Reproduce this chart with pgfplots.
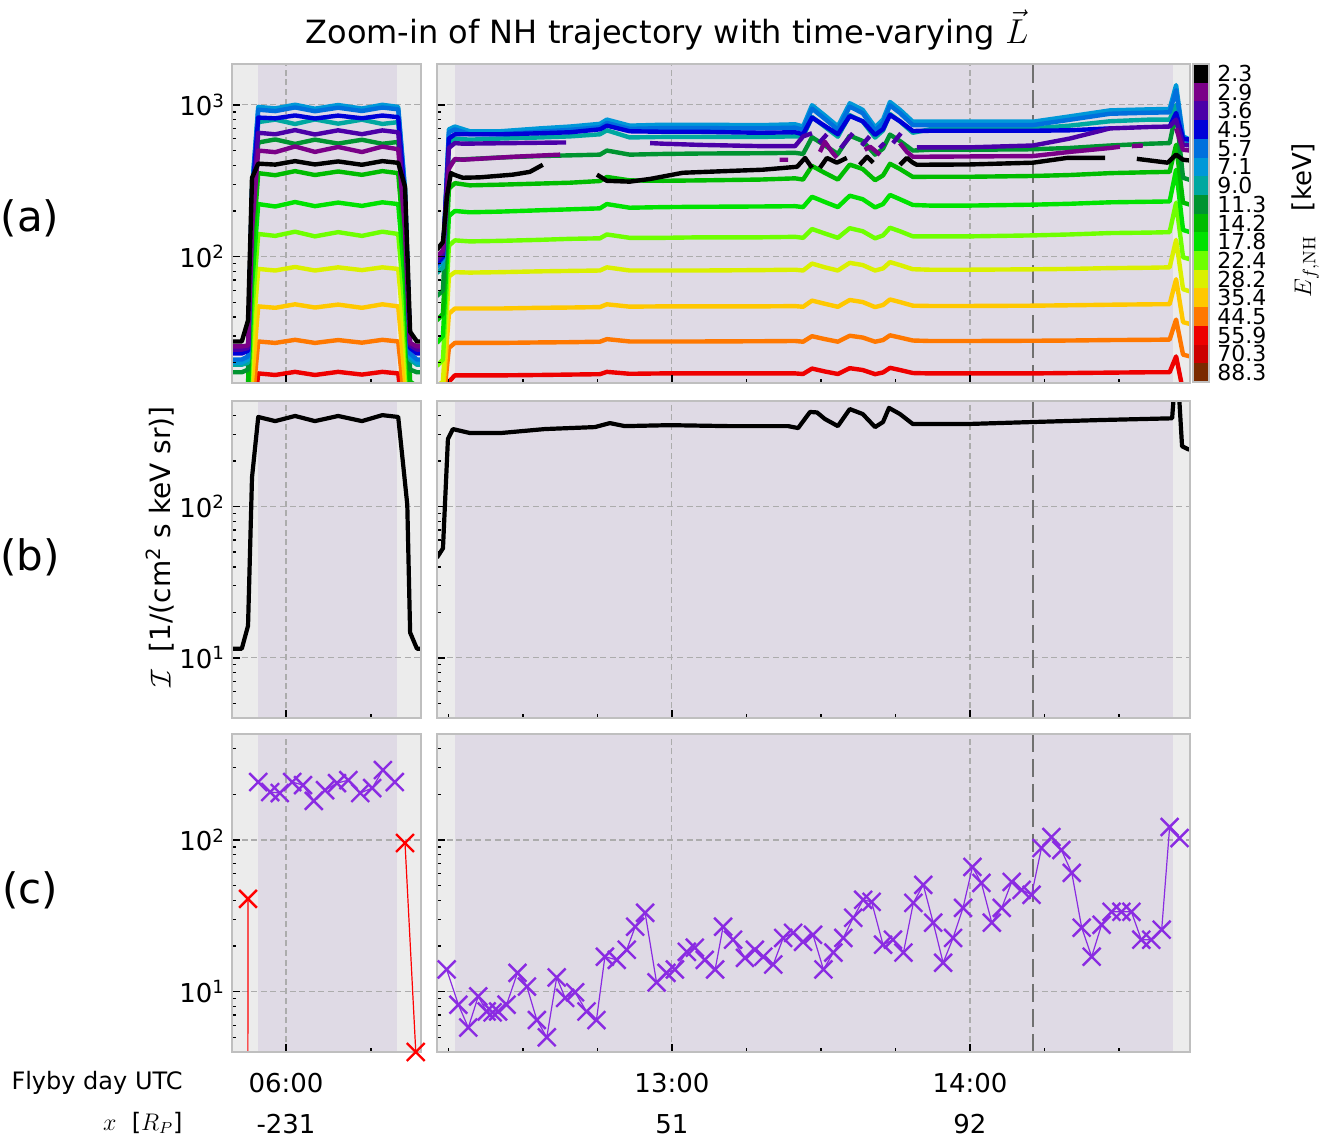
\documentclass[border=0pt]{standalone}
\usepackage[no-math]{fontspec}
\setmainfont{DejaVu Sans}
\usepackage{pgfplots}
\usepackage{pgfplotstable}
\pgfplotsset{compat=1.18}

% energy channel colours (2.3 keV ... 88.3 keV)
\definecolor{e01}{RGB}{0,0,0}
\definecolor{e02}{RGB}{122,0,136}
\definecolor{e03}{RGB}{75,0,168}
\definecolor{e04}{RGB}{0,0,216}
\definecolor{e05}{RGB}{0,112,221}
\definecolor{e06}{RGB}{0,152,216}
\definecolor{e07}{RGB}{0,168,160}
\definecolor{e08}{RGB}{0,148,48}
\definecolor{e09}{RGB}{0,188,0}
\definecolor{e10}{RGB}{0,226,0}
\definecolor{e11}{RGB}{110,255,0}
\definecolor{e12}{RGB}{218,240,0}
\definecolor{e13}{RGB}{255,200,0}
\definecolor{e14}{RGB}{255,120,0}
\definecolor{e15}{RGB}{238,0,0}
\definecolor{e16}{RGB}{204,0,0}
\definecolor{e17}{RGB}{122,42,0}
\definecolor{stripgray}{RGB}{236,236,236}
\definecolor{shadepurple}{RGB}{223,218,229}
\definecolor{gridgray}{RGB}{172,172,172}
\definecolor{markline}{RGB}{112,112,112}
\definecolor{cpurple}{RGB}{138,43,226}

% ---------- panel (a), morning pass: time [min of day] and intensity per channel
\pgfplotstableread{
x c1 c2 c3 c4 c5 c6 c7 c8 c9 c10 c11 c12 c13 c14 c15
350.47 27.6 25.6 24.4 23 21 20 19.4 17.3 14 12 10 8.5 7.5 6.5 5.5
352.2 27.6 25.6 24.4 23 21 20 19.4 17.3 14 12 10 8.5 7.5 6.5 5.5
353.3 38 26 25 24 22 21 20 18 14.5 12.5 10.5 9 8 7 6
354.0 330 150 190 240 270 280 220 160 100 65 42 25 15 10 7
355.1 410 500 655 825 930 970 770 565 355 222 141 83 47 27.6 17
358.1 404 488 640 815 910 948 800 592 344 214 137 81 46 27 16.6
361.6 426 532 682 852 962 1002 748 553 366 229 146 85.5 48.5 28.3 17.4
365.1 405 490 638 813 908 944 802 590 345 215 136 81 46.2 27 16.6
369.2 424 528 680 850 958 998 752 556 364 227 145 85 48.3 28.2 17.4
373.4 403 489 641 816 911 946 799 589 346 216 137 81.5 46 27.1 16.7
377.0 426 531 679 851 961 1001 749 554 366 228 146 85 48.5 28.3 17.4
379.8 415 510 660 830 935 970 770 570 355 222 141 83 47 27.6 17
381.0 289 150 190 240 270 280 220 160 100 65 42 25 15 10 7
381.9 32 27 26 25 23 22 21 18 15 12.5 10.5 9 8 7 6
383.1 27.6 25.6 24.4 23 21 20 19.4 17.3 14 12 10 8.5 7.5 6.5 5.5
383.82 27.6 25.6 24.4 23 21 20 19.4 17.3 14 12 10 8.5 7.5 6.5 5.5
}\leftA

% ---------- panel (a), closest approach: channels 4.5 ... 55.9 keV
\pgfplotstableread{
x c4 c5 c6 c7 c8 c9 c10 c11 c12 c13 c14 c15
732.7 90 88 85 78 55 38 27 19 14 12 10 8
733.9 100 98 95 85 60 42 30 21 15 12.5 10.5 8.5
735.1 600 660 690 560 400 280 185 118 74 42 25 15
736.3 640 690 720 600 435 305 200 128 79 45.5 27 16.5
739.3 640 640 670 590 440 295 196 126 78.5 45.5 27 16.5
745.4 640 640 670 600 450 298 198 127 79 45.5 27 16.5
753.4 650 665 700 610 460 303 202 129 80 46 27.2 16.6
759.5 660 685 720 620 465 307 205 131 80.5 46.2 27.3 16.7
765.5 690 712 750 640 470 315 208 132 81 46.5 27.5 16.8
766.9 730 760 800 680 500 335 222 140 85 48.5 28.6 17.4
771.5 670 695 730 610 470 318 210 133 81 46.8 27.6 16.9
778.2 665 703 740 615 475 316 212 133 81 47 27.6 17
785.6 665 703 740 615 478 318 213 134 81 47 27.6 17
797.7 655 700 735 615 480 322 214 134 81.5 47 27.7 17
804.8 660 708 745 620 483 328 215 135 82 47.2 27.8 17
806.4 640 684 720 617 475 322 212 133 81 46.7 27.5 16.85
808.2 825 945 995 832 612 396 248 152 90 51.3 29.9 18.3
810.8 726 808 850 717 540 356 229 142 85 48.9 28.6 17.5
813.4 640 686 722 617 475 322 212 133 81 46.7 27.5 16.85
815.8 845 974 1025 855 627 404 252 154 91 51.8 30.1 18.4
818.4 780 882 928 778 578 378 239 147 88 50.2 29.3 17.9
820.9 634 677 713 609 470 319 211 132 81 46.5 27.5 16.8
822.5 693 760 800 678 515 343 222 138 83.6 48 28.2 17.25
823.9 858 993 1045 870 637 409 255 155 92 52.2 30.3 18.5
825.9 780 884 930 778 578 378 239 147 88 50.2 29.3 17.9
828.5 673 736 775 655 500 335 219 136 82.6 47.5 28 17.1
831.9 675 736 775 690 506 336 217 136 82 47.3 27.8 17
840.0 675 736 775 690 506 336 217 136 82 47.3 27.8 17
852.7 675 736 775 700 510 340 220 138 82.5 47.5 27.9 17
860.1 680 798 840 730 520 345 223 140 83 47.8 28 17.1
868.2 700 874 920 780 540 355 228 143 84 48.2 28.2 17.2
876.2 nan 888 935 800 555 360 230 144 84.5 48.5 28.3 17.3
880.2 720 893 940 800 560 362 231 145 85 48.6 28.4 17.3
881.5 885 1250 1350 1000 900 546 374 227 129 71 38.5 22
882.9 600 600 620 590 331 227 150 99 61 37 22.6 13
884.3 590 575 590 570 320 220 145 96 59 36 22 12
}\rightA

% 2.3 keV channel (gaps are missing samples)
\pgfplotstableread{
x y
732.7 111
733.9 125
734.7 250
735.5 355
736.3 345
737.9 331
741.3 333
748.0 347
751.4 362
754.0 403
759.0 nan
764.9 347
766.9 316
771.5 312
775.6 325
782.2 357
789.7 365
798.3 374
805.2 391
806.8 447
808.2 385
809.0 nan
809.8 385
811.2 447
813.2 416
815.2 447
816.5 nan
817.8 403
819.3 455
820.5 416
823.0 nan
825.9 403
827.3 447
828.5 416
829.3 403
840.0 405
852.7 416
859.5 447
867.2 447
870.0 nan
873.6 441
879.8 416
881.5 470
882.9 435
884.3 430
}\rightOne

% 2.9 keV channel
\pgfplotstableread{
x y
732.7 100
733.9 110
735.1 380
736.3 440
737.9 435
748.0 455
757.5 470
780.0 nan
801.7 435
803.4 435
805.0 nan
809.8 490
810.8 571
812.2 490
813.2 448
816.0 nan
818.8 506
819.9 530
821.9 469
824.0 nan
825.9 560
827.3 490
828.5 455
829.3 455
852.7 460
860.1 490
868.2 520
870.2 530
871.5 nan
872.6 535
874.8 540
878.0 nan
881.5 700
882.9 506
884.3 500
}\rightTwo

% 3.6 keV channel
\pgfplotstableread{
x y
732.7 95
733.9 105
735.1 520
736.3 560
737.9 555
748.0 560
757.5 565
758.7 565
765.0 nan
775.6 560
778.2 555
785.6 545
797.7 535
804.8 535
806.4 620
808.2 650
809.0 nan
809.6 560
811.2 640
812.5 nan
814.0 520
816.4 650
817.5 nan
818.2 540
819.8 620
821.0 nan
821.8 520
822.8 560
823.8 nan
824.5 560
826.1 650
828.0 nan
829.3 525
840.0 525
852.7 540
860.1 600
868.2 700
876.2 715
880.2 720
881.5 800
882.9 546
884.3 540
}\rightThree

\tikzset{
  nhgrid/.style={draw=gridgray, line width=0.55pt, dash pattern=on 3pt off 1.8pt},
  nhchan/.style={draw=#1, line width=2.2pt, line join=round},
  nhtot/.style={draw=black, line width=2.1pt, line join=round},
  nhref/.style={draw=markline, line width=1pt, dash pattern=on 9pt off 3.5pt},
  nhx/.style={draw=#1, line width=0.6pt, mark=x, mark size=6.3pt,
    mark options={line width=1.2pt, draw=#1}},
}

\begin{document}
\begin{tikzpicture}
\path[use as bounding box] (0,0) rectangle (667.5pt,570pt);

% ================= (a) =================
\begin{semilogyaxis}[at={(116pt,378.5pt)}, anchor=south west, scale only axis,
  width=94.5pt, height=159.5pt, xmin=350.47, xmax=383.82, ymin=14.7, ymax=1860,
  axis on top, axis line style={draw=gray!50, line width=1pt},
  tick align=inside, xtick pos=left, ytick pos=left,
  major tick length=4pt, minor tick length=2pt,
  every tick/.style={black, line width=0.7pt},
  xtick={360}, minor xtick={375}, xticklabels={},
  ytick={100,1000}, minor ytick={20,30,40,50,60,70,80,90,200,300,400,500,600,700,800,900},
  yticklabels={10\textsuperscript{2},10\textsuperscript{3}},
  yticklabel style={font=\fontsize{13}{15}\selectfont},
  unbounded coords=jump]
\addplot[fill=stripgray, draw=none] coordinates {(350.47,14.7) (350.47,1860) (383.82,1860) (383.82,14.7)} -- cycle;
\addplot[fill=shadepurple, draw=none] coordinates {(355.06,14.7) (355.06,1860) (379.6,1860) (379.6,14.7)} -- cycle;
\addplot[nhgrid] coordinates {(350.47,100) (383.82,100)};
\addplot[nhgrid] coordinates {(350.47,1000) (383.82,1000)};
\addplot[nhgrid] coordinates {(360,14.7) (360,1860)};
\addplot[nhchan=e15] table[y=c15] {\leftA};
\addplot[nhchan=e14] table[y=c14] {\leftA};
\addplot[nhchan=e13] table[y=c13] {\leftA};
\addplot[nhchan=e12] table[y=c12] {\leftA};
\addplot[nhchan=e11] table[y=c11] {\leftA};
\addplot[nhchan=e10] table[y=c10] {\leftA};
\addplot[nhchan=e09] table[y=c9] {\leftA};
\addplot[nhchan=e08] table[y=c8] {\leftA};
\addplot[nhchan=e07] table[y=c7] {\leftA};
\addplot[nhchan=e06] table[y=c6] {\leftA};
\addplot[nhchan=e05] table[y=c5] {\leftA};
\addplot[nhchan=e04] table[y=c4] {\leftA};
\addplot[nhchan=e03] table[y=c3] {\leftA};
\addplot[nhchan=e02] table[y=c2] {\leftA};
\addplot[nhchan=e01] table[y=c1] {\leftA};
\end{semilogyaxis}

\begin{semilogyaxis}[at={(218.5pt,378.5pt)}, anchor=south west, scale only axis,
  width=376.5pt, height=159.5pt, xmin=732.7, xmax=884.3, ymin=14.7, ymax=1860,
  axis on top, axis line style={draw=gray!50, line width=1pt},
  tick align=inside, xtick pos=left, ytick pos=left,
  major tick length=4pt, minor tick length=2pt,
  every tick/.style={black, line width=0.7pt},
  xtick={780,840}, minor xtick={735,750,765,795,810,825,855,870}, xticklabels={},
  ytick={100,1000}, minor ytick={20,30,40,50,60,70,80,90,200,300,400,500,600,700,800,900},
  yticklabels={},
  unbounded coords=jump]
\addplot[fill=stripgray, draw=none] coordinates {(732.7,14.7) (732.7,1860) (884.3,1860) (884.3,14.7)} -- cycle;
\addplot[fill=shadepurple, draw=none] coordinates {(736.3,14.7) (736.3,1860) (880.85,1860) (880.85,14.7)} -- cycle;
\addplot[nhgrid] coordinates {(732.7,100) (884.3,100)};
\addplot[nhgrid] coordinates {(732.7,1000) (884.3,1000)};
\addplot[nhgrid] coordinates {(780,14.7) (780,1860)};
\addplot[nhgrid] coordinates {(840,14.7) (840,1860)};
\addplot[nhref] coordinates {(852.7,14.7) (852.7,1860)};
\addplot[nhchan=e15] table[y=c15] {\rightA};
\addplot[nhchan=e14] table[y=c14] {\rightA};
\addplot[nhchan=e13] table[y=c13] {\rightA};
\addplot[nhchan=e12] table[y=c12] {\rightA};
\addplot[nhchan=e11] table[y=c11] {\rightA};
\addplot[nhchan=e10] table[y=c10] {\rightA};
\addplot[nhchan=e09] table[y=c9] {\rightA};
\addplot[nhchan=e08] table[y=c8] {\rightA};
\addplot[nhchan=e07] table[y=c7] {\rightA};
\addplot[nhchan=e06] table[y=c6] {\rightA};
\addplot[nhchan=e05] table[y=c5] {\rightA};
\addplot[nhchan=e04] table[y=c4] {\rightA};
\addplot[nhchan=e03] table {\rightThree};
\addplot[nhchan=e02] table {\rightTwo};
\addplot[nhchan=e01] table {\rightOne};
\end{semilogyaxis}

% colour bar of the energy channels
\begin{axis}[at={(596.5pt,379pt)}, anchor=south west, scale only axis,
  width=8pt, height=159pt, xmin=-0.5, xmax=0.5, ymin=0, ymax=17,
  ybar stacked, bar width=8pt, axis on top,
  xtick=\empty, ytick={0.5,1.5,...,16.5},
  yticklabels={88.3,70.3,55.9,44.5,35.4,28.2,22.4,17.8,14.2,11.3,9.0,7.1,5.7,4.5,3.6,2.9,2.3},
  yticklabel pos=right, major tick length=0pt,
  axis line style={draw=gray!50, line width=0.6pt},
  yticklabel style={font=\fontsize{11}{11}\selectfont, inner sep=0pt, xshift=4pt}]
\addplot[fill=e17, draw=none] coordinates {(0,1)};
\addplot[fill=e16, draw=none] coordinates {(0,1)};
\addplot[fill=e15, draw=none] coordinates {(0,1)};
\addplot[fill=e14, draw=none] coordinates {(0,1)};
\addplot[fill=e13, draw=none] coordinates {(0,1)};
\addplot[fill=e12, draw=none] coordinates {(0,1)};
\addplot[fill=e11, draw=none] coordinates {(0,1)};
\addplot[fill=e10, draw=none] coordinates {(0,1)};
\addplot[fill=e09, draw=none] coordinates {(0,1)};
\addplot[fill=e08, draw=none] coordinates {(0,1)};
\addplot[fill=e07, draw=none] coordinates {(0,1)};
\addplot[fill=e06, draw=none] coordinates {(0,1)};
\addplot[fill=e05, draw=none] coordinates {(0,1)};
\addplot[fill=e04, draw=none] coordinates {(0,1)};
\addplot[fill=e03, draw=none] coordinates {(0,1)};
\addplot[fill=e02, draw=none] coordinates {(0,1)};
\addplot[fill=e01, draw=none] coordinates {(0,1)};
\end{axis}

% ================= (b) =================
\begin{semilogyaxis}[at={(116pt,211pt)}, anchor=south west, scale only axis,
  width=94.5pt, height=158.5pt, xmin=350.47, xmax=383.82, ymin=4, ymax=500,
  axis on top, axis line style={draw=gray!50, line width=1pt},
  tick align=inside, xtick pos=left, ytick pos=left,
  major tick length=4pt, minor tick length=2pt,
  every tick/.style={black, line width=0.7pt},
  xtick={360}, minor xtick={375}, xticklabels={},
  ytick={10,100}, minor ytick={4,5,6,7,8,9,20,30,40,50,60,70,80,90,200,300,400},
  yticklabels={10\textsuperscript{1},10\textsuperscript{2}},
  yticklabel style={font=\fontsize{13}{15}\selectfont}]
\addplot[fill=stripgray, draw=none] coordinates {(350.47,4) (350.47,500) (383.82,500) (383.82,4)} -- cycle;
\addplot[fill=shadepurple, draw=none] coordinates {(355.06,4) (355.06,500) (379.6,500) (379.6,4)} -- cycle;
\addplot[nhgrid] coordinates {(350.47,10) (383.82,10)};
\addplot[nhgrid] coordinates {(350.47,100) (383.82,100)};
\addplot[nhgrid] coordinates {(360,4) (360,500)};
\addplot[nhtot] table {
x y
350.47 11.5
352.2 11.5
353.3 16.3
354.0 156
355.1 392
358.1 368
361.6 398
365.1 368
369.2 398
373.4 368
377.0 403
379.8 392
381.4 103
381.9 14.7
383.1 11.5
383.82 11.5
};
\end{semilogyaxis}

\begin{semilogyaxis}[at={(218.5pt,211pt)}, anchor=south west, scale only axis,
  width=376.5pt, height=158.5pt, xmin=732.7, xmax=884.3, ymin=4, ymax=500,
  axis on top, axis line style={draw=gray!50, line width=1pt},
  tick align=inside, xtick pos=left, ytick pos=left,
  major tick length=4pt, minor tick length=2pt,
  every tick/.style={black, line width=0.7pt},
  xtick={780,840}, minor xtick={735,750,765,795,810,825,855,870}, xticklabels={},
  ytick={10,100}, minor ytick={4,5,6,7,8,9,20,30,40,50,60,70,80,90,200,300,400},
  yticklabels={}]
\addplot[fill=stripgray, draw=none] coordinates {(732.7,4) (732.7,500) (884.3,500) (884.3,4)} -- cycle;
\addplot[fill=shadepurple, draw=none] coordinates {(736.3,4) (736.3,500) (880.85,500) (880.85,4)} -- cycle;
\addplot[nhgrid] coordinates {(732.7,10) (884.3,10)};
\addplot[nhgrid] coordinates {(732.7,100) (884.3,100)};
\addplot[nhgrid] coordinates {(780,4) (780,500)};
\addplot[nhgrid] coordinates {(840,4) (840,500)};
\addplot[nhref] coordinates {(852.7,4) (852.7,500)};
\addplot[nhtot] table {
x y
732.7 46
733.9 53
734.9 280
735.9 326
739.3 307
745.6 307
754.4 326
764.5 336
767.5 357
770.5 341
777.8 345
781.8 345
791.3 341
803.4 341
805.4 331
807.8 423
809.2 420
810.8 380
813.4 341
815.8 442
818.4 410
820.9 336
822.5 363
823.7 450
825.9 410
828.5 352
839.4 352
852.7 363
866.2 374
880.7 384
881.3 700
881.9 700
882.7 251
883.9 240
884.3 238
};
\end{semilogyaxis}

% ================= (c) =================
\begin{semilogyaxis}[at={(116pt,44pt)}, anchor=south west, scale only axis,
  width=94.5pt, height=159pt, xmin=350.47, xmax=383.82, ymin=4, ymax=500,
  axis on top, axis line style={draw=gray!50, line width=1pt},
  tick align=inside, xtick pos=left, ytick pos=left,
  major tick length=4pt, minor tick length=2pt,
  every tick/.style={black, line width=0.7pt},
  xtick={360}, minor xtick={375}, xticklabels={{06:00\\-231}},
  xticklabel style={align=center, font=\fontsize{13}{20.5}\selectfont, yshift=-7pt},
  ytick={10,100}, minor ytick={4,5,6,7,8,9,20,30,40,50,60,70,80,90,200,300,400},
  yticklabels={10\textsuperscript{1},10\textsuperscript{2}},
  yticklabel style={font=\fontsize{13}{15}\selectfont}]
\addplot[fill=stripgray, draw=none] coordinates {(350.47,4) (350.47,500) (383.82,500) (383.82,4)} -- cycle;
\addplot[fill=shadepurple, draw=none] coordinates {(355.06,4) (355.06,500) (379.6,500) (379.6,4)} -- cycle;
\addplot[nhgrid] coordinates {(350.47,10) (383.82,10)};
\addplot[nhgrid] coordinates {(350.47,100) (383.82,100)};
\addplot[nhgrid] coordinates {(360,4) (360,500)};
\addplot[nhx=cpurple] table {
x y
355.1 241
357.2 207
358.9 204
361.1 241
363.0 230
364.9 181
366.9 213
369.0 237
371.0 248
373.1 204
375.2 220
377.1 289
379.2 241
};
\addplot[nhx=red] table {
x y
353.2 0.01
353.3 40.9
};
\addplot[nhx=red] table {
x y
381.0 95.5
382.9 4.0
};
\end{semilogyaxis}

\begin{semilogyaxis}[at={(218.5pt,44pt)}, anchor=south west, scale only axis,
  width=376.5pt, height=159pt, xmin=732.7, xmax=884.3, ymin=4, ymax=500,
  axis on top, axis line style={draw=gray!50, line width=1pt},
  tick align=inside, xtick pos=left, ytick pos=left,
  major tick length=4pt, minor tick length=2pt,
  every tick/.style={black, line width=0.7pt},
  xtick={780,840}, minor xtick={735,750,765,795,810,825,855,870},
  xticklabels={{13:00\\51},{14:00\\92}},
  xticklabel style={align=center, font=\fontsize{13}{20.5}\selectfont, yshift=-7pt},
  ytick={10,100}, minor ytick={4,5,6,7,8,9,20,30,40,50,60,70,80,90,200,300,400},
  yticklabels={}]
\addplot[fill=stripgray, draw=none] coordinates {(732.7,4) (732.7,500) (884.3,500) (884.3,4)} -- cycle;
\addplot[fill=shadepurple, draw=none] coordinates {(736.3,4) (736.3,500) (880.85,500) (880.85,4)} -- cycle;
\addplot[nhgrid] coordinates {(732.7,10) (884.3,10)};
\addplot[nhgrid] coordinates {(732.7,100) (884.3,100)};
\addplot[nhgrid] coordinates {(780,4) (780,500)};
\addplot[nhgrid] coordinates {(840,4) (840,500)};
\addplot[nhref] coordinates {(852.7,4) (852.7,500)};
\addplot[nhx=cpurple] table {
x y
734.65 14.0
737.0 8.2
739.0 5.8
741.0 9.3
742.7 7.4
743.9 7.3
745.0 7.4
746.7 8.2
748.9 13.3
750.8 10.8
752.8 6.5
754.8 5.0
756.8 12.4
758.5 9.1
760.5 9.9
762.8 7.4
764.8 6.5
766.5 17.0
768.9 16.2
770.9 18.9
772.6 26.8
774.6 33.1
776.9 11.5
778.9 13.3
780.6 14.0
783.0 18.3
784.6 19.5
786.6 16.2
788.7 14.0
790.3 26.8
792.3 22.0
794.7 16.7
796.7 18.9
798.4 17.0
800.4 15.1
802.4 22.6
804.4 24.4
806.4 21.3
808.4 23.7
810.5 14.0
812.5 18.1
814.5 22.6
816.5 30.7
818.5 40.3
820.2 39.1
822.5 20.4
824.5 22.0
826.6 18.1
828.6 38.5
830.6 50.6
832.6 28.5
834.6 15.5
836.6 22.6
838.6 35.7
840.5 66.4
842.3 52.1
844.4 28.5
846.4 35.7
848.4 52.9
850.4 46.9
852.4 43.5
854.4 88.6
856.4 104.6
858.4 85.9
860.5 60.7
862.5 26.4
864.5 17.0
866.5 27.6
868.5 33.6
870.5 33.6
872.5 33.6
874.5 22.0
876.5 22.0
878.6 25.6
880.2 121.8
882.2 103
};
\addplot[nhx=cyan, only marks] table {
x y
884.7 5.0
};
\end{semilogyaxis}

% ================= labels =================
\node[font=\fontsize{16}{19}\selectfont] at (333.5pt,555pt) {Zoom-in of NH trajectory with time-varying $\vec{L}$};
\node[font=\fontsize{21}{25}\selectfont] at (15pt,461pt) {(a)};
\node[font=\fontsize{21}{25}\selectfont] at (15pt,291.5pt) {(b)};
\node[font=\fontsize{21}{25}\selectfont] at (15pt,125pt) {(c)};
\node[rotate=90, font=\fontsize{14}{16}\selectfont] at (80pt,296.5pt) {$\mathcal{I}$\ \ [1/(cm\textsuperscript{2} s keV sr)]};
\node[rotate=90, font=\fontsize{13}{15}\selectfont] at (652.5pt,460pt) {$E_{f,\mathrm{NH}}$\ \ \ [keV]};
\node[anchor=east, inner sep=0pt, font=\fontsize{12}{14}\selectfont] at (91.5pt,28.5pt) {Flyby day UTC};
\node[anchor=east, inner sep=0pt, font=\fontsize{12}{14}\selectfont] at (91.5pt,8.5pt) {$x$\ \ [$R_P$]};
\end{tikzpicture}
\end{document}
